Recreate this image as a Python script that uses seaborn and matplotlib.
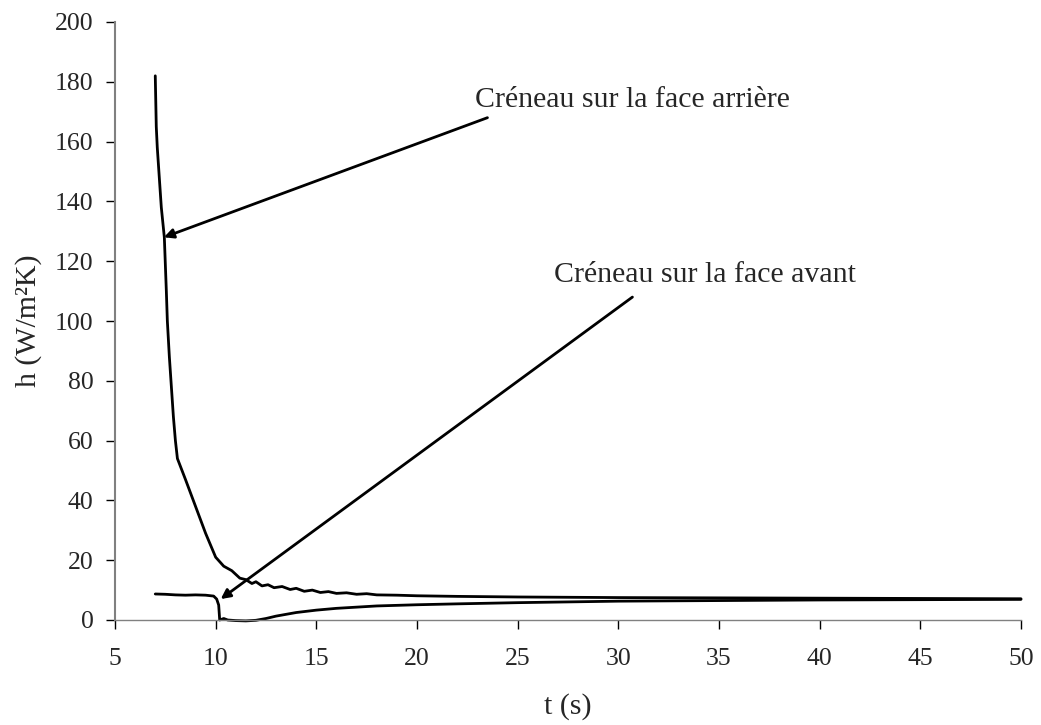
import numpy as np
import pandas as pd
import matplotlib
matplotlib.use("Agg")
import matplotlib.pyplot as plt
import seaborn as sns

# curve "Créneau sur la face arrière"
t_arriere = [7.0, 7.05, 7.1, 7.2, 7.3, 7.45, 7.55, 7.6, 7.7, 7.8, 7.9, 8.0, 8.1,
             8.5, 9.0, 9.5, 10.0, 10.4, 10.8, 11.2, 11.5, 11.8, 12.0, 12.3, 12.6,
             12.9, 13.3, 13.7, 14.0, 14.4, 14.8, 15.2, 15.6, 16.0, 16.5, 17.0,
             17.5, 18.0, 19.0, 20.0, 22.0, 25.0, 30.0, 35.0, 40.0, 45.0, 50.0]
h_arriere = [182, 165, 158, 148, 138, 128, 110, 100, 88, 78, 68, 60, 54,
             47, 38, 29, 21, 18, 16.5, 14, 13.5, 12.2, 12.8, 11.4, 11.8,
             10.8, 11.2, 10.2, 10.6, 9.6, 10.0, 9.2, 9.5, 8.9, 9.1, 8.6,
             8.8, 8.4, 8.3, 8.1, 7.9, 7.7, 7.5, 7.4, 7.3, 7.2, 7.1]

# curve "Créneau sur la face avant"
t_avant = [7.0, 7.5, 8.0, 8.5, 9.0, 9.5, 9.9, 10.05, 10.15, 10.2, 10.4, 10.6,
           11.0, 11.5, 12.0, 12.5, 13.0, 14.0, 15.0, 16.0, 17.0, 18.0, 20.0,
           22.0, 25.0, 28.0, 30.0, 35.0, 40.0, 45.0, 50.0]
h_avant = [8.7, 8.6, 8.4, 8.3, 8.4, 8.3, 8.0, 7.0, 5.0, 0.0, 0.5, 0.0,
           -0.2, -0.3, -0.1, 0.5, 1.3, 2.5, 3.3, 3.9, 4.3, 4.7, 5.1,
           5.4, 5.8, 6.1, 6.3, 6.5, 6.7, 6.8, 6.9]

x_ticks = [5, 10, 15, 20, 25, 30, 35, 40, 45, 50]
y_ticks = [0, 20, 40, 60, 80, 100, 120, 140, 160, 180, 200]

sns.set_style("ticks")
plt.rcParams['font.family'] = ['Liberation Serif', 'DejaVu Serif']

fig = plt.figure(figsize=(10.41, 7.25), dpi=100)
ax = fig.add_axes([115 / 1041, 1 - 620 / 725, (1021 - 115) / 1041, (620 - 22) / 725])

df1 = pd.DataFrame({"t": t_arriere, "h": h_arriere})
df2 = pd.DataFrame({"t": t_avant, "h": h_avant})
sns.lineplot(data=df1, x="t", y="h", ax=ax, color="black", lw=2, estimator=None, sort=False)
sns.lineplot(data=df2, x="t", y="h", ax=ax, color="black", lw=2, estimator=None, sort=False)
for ln in ax.lines:
    ln.set_clip_on(False)

ax.set_xlim(5, 50)
ax.set_ylim(0, 200)
ax.set_xticks(x_ticks)
ax.set_yticks(y_ticks)
ax.tick_params(axis="both", labelsize=18.5, length=6.5, width=1, color="black")
ax.tick_params(axis="y", pad=9)
ax.tick_params(axis="x", pad=14)

sns.despine(ax=ax)
ax.spines["left"].set_color("#808080")
ax.spines["left"].set_linewidth(1.5)
ax.spines["bottom"].set_color("#808080")
ax.spines["bottom"].set_linewidth(1)
ax.spines["bottom"].set_linestyle((0, (1, 1)))

ax.set_xlabel("t (s)", fontsize=21.5, labelpad=16)
ax.set_ylabel("h (W/m²K)", fontsize=21.5, labelpad=9)

arrow = dict(arrowstyle="-|>", color="black", lw=2, mutation_scale=14, shrinkA=0, shrinkB=0)
ax.annotate("", xy=(7.43, 128), xytext=(23.5, 168), arrowprops=arrow)
ax.annotate("", xy=(10.25, 7), xytext=(30.7, 108), arrowprops=arrow)
ax.text(22.9, 174, "Créneau sur la face arrière", fontsize=21.5, va="center", ha="left")
ax.text(26.8, 115.5, "Créneau sur la face avant", fontsize=21.5, va="center", ha="left")

fig.savefig("out.png", dpi=100)
